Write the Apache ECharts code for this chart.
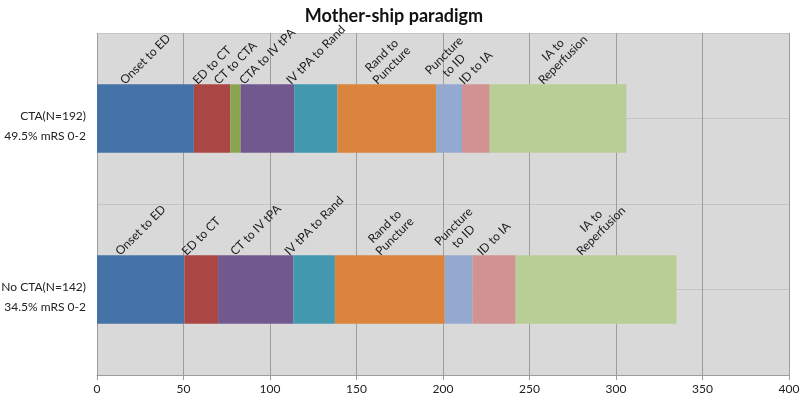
<!DOCTYPE html>
<html><head><meta charset="utf-8">
<script src="https://cdn.jsdelivr.net/npm/echarts@6/dist/echarts.min.js"></script>
<style>html,body{margin:0;padding:0;background:#fff}#c{width:800px;height:400px}</style>
</head><body><div id="c"></div>
<script>
// ---- data ----
const categories = ['CTA(N=192)\n49.5% mRS 0-2', 'No CTA(N=142)\n34.5% mRS 0-2'];
const seriesNames = ['Onset to ED', 'ED to CT', 'CT to CTA', 'CTA to IV tPA', 'IV tPA to Rand',
  'Rand to Puncture', 'Puncture to ID', 'ID to IA', 'IA to Reperfusion'];
const ctaLabels = ['Onset to ED', 'ED to CT', 'CT to CTA', 'CTA to IV tPA', 'IV tPA to Rand',
  'Rand to\nPuncture', 'Puncture\nto ID', 'ID to IA', 'IA to\nReperfusion'];
const noCtaLabels = ['Onset to ED', 'ED to CT', '', 'CT to IV tPA', 'IV tPA to Rand',
  'Rand to\nPuncture', 'Puncture\nto ID', 'ID to IA', 'IA to\nReperfusion'];
const ctaValues = [56, 21, 6, 31, 25, 57, 15, 16, 79];
const noCtaValues = [50.5, 19.5, 0, 43.5, 24, 63.5, 16, 25, 93];
const colors = ['#4572A7', '#AA4643', '#89A54E', '#71588F', '#4198AF', '#DB843D', '#93A9CF', '#D19392', '#B9CD96'];

// ---- label layout helpers ----
const FONT = 'Lato';
const LABEL_SIZE = 12;
const LINE_H = 14;
const ctx = document.createElement('canvas').getContext('2d');
ctx.font = LABEL_SIZE + 'px ' + FONT;
function lift(text) {
  const lines = text.split('\n');
  const w = Math.max.apply(null, lines.map(l => ctx.measureText(l).width));
  const h = lines.length * LINE_H;
  return (w + h) / (2 * Math.SQRT2) - 3;
}
function item(v, text) {
  if (!v || !text) return { value: v, label: { show: false } };
  return {
    value: v,
    label: {
      show: true, formatter: text, position: ['50%', -lift(text)],
      rotate: 45, align: 'center', verticalAlign: 'middle',
      fontFamily: FONT, fontSize: LABEL_SIZE, lineHeight: LINE_H, color: '#1a1a1a'
    }
  };
}

const series = seriesNames.map((name, i) => ({
  name, type: 'bar', stack: 'total', barWidth: '40%',
  xAxisIndex: 0, yAxisIndex: 0,
  itemStyle: { color: colors[i] },
  data: [item(ctaValues[i], ctaLabels[i]), item(noCtaValues[i], noCtaLabels[i])]
}));

const chart = echarts.init(document.getElementById('c'), null, { renderer: 'canvas' });
chart.setOption({
  animation: false,
  title: {
    text: 'Mother-ship paradigm', left: 389, top: 2, textAlign: 'center',
    textStyle: { fontFamily: FONT, fontSize: 18, fontWeight: 'bold', color: '#111' }
  },
  grid: [
    { left: 97, right: 11, top: 33, bottom: 25, show: true, backgroundColor: '#D9D9D9', borderWidth: 0, outerBoundsMode: 'none', containLabel: false },
    { left: 97, right: 11, top: 41, bottom: 17, show: false, outerBoundsMode: 'none', containLabel: false }
  ],
  xAxis: [{
    gridIndex: 0, type: 'value', min: 0, max: 400, interval: 50,
    axisLine: { show: true, lineStyle: { color: '#9D9D9D' } },
    axisTick: { show: true, length: 5, lineStyle: { color: '#9D9D9D' } },
    splitLine: { show: true, lineStyle: { color: '#9D9D9D' } },
    axisLabel: { color: '#222', fontFamily: FONT, fontSize: 12, margin: 8 }
  }, {
    gridIndex: 1, type: 'value', min: 0, max: 400, show: false
  }],
  yAxis: [{
    gridIndex: 0, type: 'category', inverse: true, data: categories,
    axisLine: { show: false }, axisTick: { show: false }, splitLine: { show: false },
    axisLabel: { show: false }
  }, {
    gridIndex: 0, type: 'value', min: 0, max: 4, interval: 1, position: 'right',
    axisLine: { show: false }, axisTick: { show: false }, axisLabel: { show: false },
    splitLine: { show: true, lineStyle: { color: '#C4C4C4' } }
  }, {
    gridIndex: 1, type: 'category', inverse: true, data: categories,
    axisLine: { show: false }, axisTick: { show: false }, splitLine: { show: false },
    axisLabel: { color: '#222', fontFamily: FONT, fontSize: 12, lineHeight: 20, margin: 11, align: 'right' }
  }],
  series
});
</script></body></html>
